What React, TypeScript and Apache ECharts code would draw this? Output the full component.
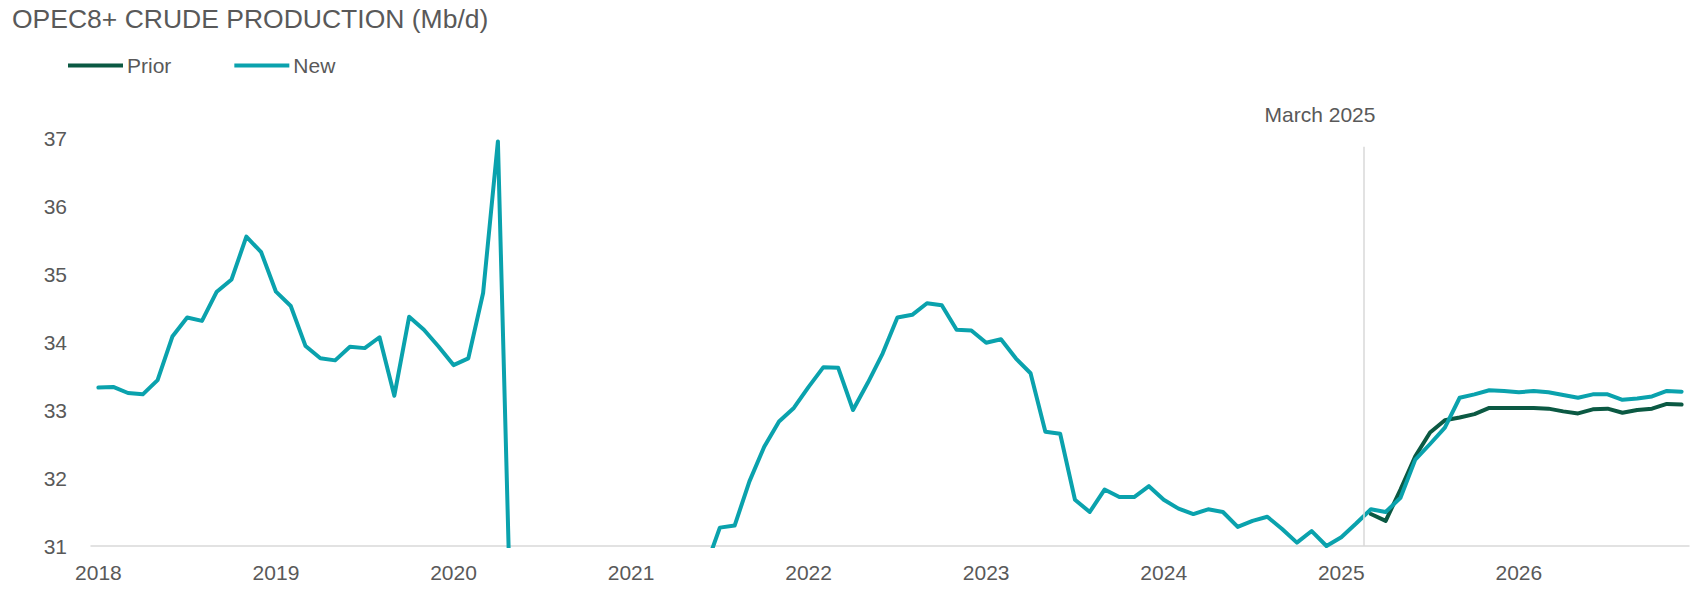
import React, { useEffect, useRef } from "react";
import * as echarts from "echarts";

const years = [2018, 2019, 2020, 2021, 2022, 2023, 2024, 2025, 2026];
const monthCategories: string[] = years.flatMap((y) =>
  Array.from({ length: 12 }, (_, m) => `${y}-${String(m + 1).padStart(2, "0")}`)
);

const newValues = [
  33.33, 33.34, 33.25, 33.23, 33.44, 34.08, 34.36, 34.31, 34.74, 34.92, 35.55, 35.32, // 2018
  34.74, 34.53, 33.94, 33.76, 33.73, 33.93, 33.91, 34.07, 33.21, 34.37, 34.18, 33.93, // 2019
  33.66, 33.76, 34.72, 36.95, 28.7, 28.5, 28.9, 29.2, 29.3, 29.4, 29.6, 29.7, // 2020
  29.5, 29.0, 29.3, 29.6, 30.0, 30.66, 31.27, 31.3, 31.95, 32.46, 32.83, 33.03, // 2021
  33.34, 33.63, 33.62, 33.0, 33.4, 33.83, 34.36, 34.4, 34.57, 34.54, 34.18, 34.17, // 2022
  33.99, 34.04, 33.76, 33.54, 32.68, 32.65, 31.68, 31.5, 31.83, 31.72, 31.72, 31.88, // 2023
  31.68, 31.55, 31.47, 31.54, 31.5, 31.28, 31.37, 31.43, 31.25, 31.05, 31.22, 31.0, // 2024
  31.13, 31.33, 31.54, 31.5, 31.71, 32.27, 32.5, 32.74, 33.18, 33.23, 33.29, 33.28, // 2025
  33.26, 33.28, 33.26, 33.22, 33.18, 33.23, 33.23, 33.15, 33.17, 33.2, 33.28, 33.27, // 2026
];

const priorStartMonth = "2025-03";
const priorValues = [
  31.47, 31.37, 31.83, 32.32, 32.67, 32.85, 32.89, 32.94, 33.03, 33.03, // Mar-Dec 2025
  33.03, 33.03, 33.02, 32.98, 32.95, 33.01, 33.02, 32.96, 33.0, 33.02, 33.09, 33.08, // 2026
];

const markerMonth = "2025-03";
const markerLabel = "March 2025";
const markerTop = 36.87;

const yMin = 31;
const yMax = 37;
const yInterval = 1;

const titleText = "OPEC8+ CRUDE PRODUCTION (Mb/d)";
const seriesNames = ["Prior", "New"];

const FONT = "'Liberation Sans', Arial, Helvetica, sans-serif";
const TEXT_COLOR = "#595959";
const PRIOR_COLOR = "#0B5943";
const NEW_COLOR = "#0AA2AD";
const GRID_COLOR = "#D9D9D9";

export default function App() {
  const ref = useRef<HTMLDivElement>(null);

  useEffect(() => {
    if (!ref.current) return;
    const chart = echarts.init(ref.current, null, { renderer: "svg" });
    const priorStart = monthCategories.indexOf(priorStartMonth);
    const priorData = monthCategories.map((_, i) =>
      i >= priorStart && i - priorStart < priorValues.length ? priorValues[i - priorStart] : null
    );
    const markerIndex = monthCategories.indexOf(markerMonth);

    chart.setOption({
      animation: false,
      backgroundColor: "#ffffff",
      textStyle: { fontFamily: FONT, color: TEXT_COLOR },
      title: {
        text: titleText,
        left: 12,
        top: 5,
        padding: 0,
        textStyle: { fontFamily: FONT, fontSize: 26.5, fontWeight: "normal", color: TEXT_COLOR },
      },
      legend: {
        data: seriesNames,
        left: 68,
        top: 55,
        padding: 0,
        icon: "rect",
        itemWidth: 55,
        itemHeight: 4,
        itemGap: 63,
        itemStyle: { borderWidth: 0 },
        textStyle: { fontFamily: FONT, fontSize: 21, color: TEXT_COLOR, padding: [0, 0, 0, -1] },
      },
      grid: { left: 91, right: 11, top: 138, bottom: 44, containLabel: false },
      xAxis: [
        {
          type: "category",
          data: monthCategories,
          boundaryGap: true,
          axisLine: { show: true, lineStyle: { color: GRID_COLOR, width: 1.5 } },
          axisTick: { show: false },
          axisLabel: {
            interval: 11,
            margin: 16,
            fontFamily: FONT,
            fontSize: 21,
            color: TEXT_COLOR,
            formatter: (v: string) => v.slice(0, 4),
          },
          splitLine: { show: false },
        },
        {
          type: "value",
          min: 0,
          max: monthCategories.length,
          show: false,
        },
      ],
      yAxis: {
        type: "value",
        min: yMin,
        max: yMax,
        interval: yInterval,
        axisLine: { show: false },
        axisTick: { show: false },
        splitLine: { show: false },
        axisLabel: { margin: 24, fontFamily: FONT, fontSize: 21, color: TEXT_COLOR },
      },
      series: [
        {
          name: "Prior",
          type: "line",
          data: priorData,
          symbol: "none",
          color: PRIOR_COLOR,
          lineStyle: { color: PRIOR_COLOR, width: 4, join: "round", cap: "round" },
          z: 3,
        },
        {
          name: "New",
          type: "line",
          data: newValues,
          symbol: "none",
          color: NEW_COLOR,
          lineStyle: { color: NEW_COLOR, width: 4, join: "round", cap: "round" },
          z: 4,
        },
        {
          name: "marker",
          type: "line",
          xAxisIndex: 1,
          yAxisIndex: 0,
          data: [],
          silent: true,
          z: 1,
          markLine: {
            silent: true,
            symbol: ["none", "none"],
            label: { show: false },
            lineStyle: { color: GRID_COLOR, width: 1.5, type: "solid" },
            data: [[{ coord: [markerIndex, yMin] }, { coord: [markerIndex, markerTop] }]],
          },
        },
      ],
    });

    const lx = chart.convertToPixel({ xAxisIndex: 1 }, markerIndex) as number;
    const ty = chart.convertToPixel({ yAxisIndex: 0 }, markerTop) as number;
    chart.setOption({
      graphic: [
        {
          type: "text",
          x: lx + 12,
          y: ty - 32,
          silent: true,
          style: {
            text: markerLabel,
            fontFamily: FONT,
            fontSize: 21,
            fill: TEXT_COLOR,
            align: "right",
            verticalAlign: "middle",
          },
        },
      ],
    });

    return () => chart.dispose();
  }, []);

  return (
    <div
      ref={ref}
      style={{ position: "fixed", left: 0, top: 0, width: 1700, height: 590, background: "#fff" }}
    />
  );
}
